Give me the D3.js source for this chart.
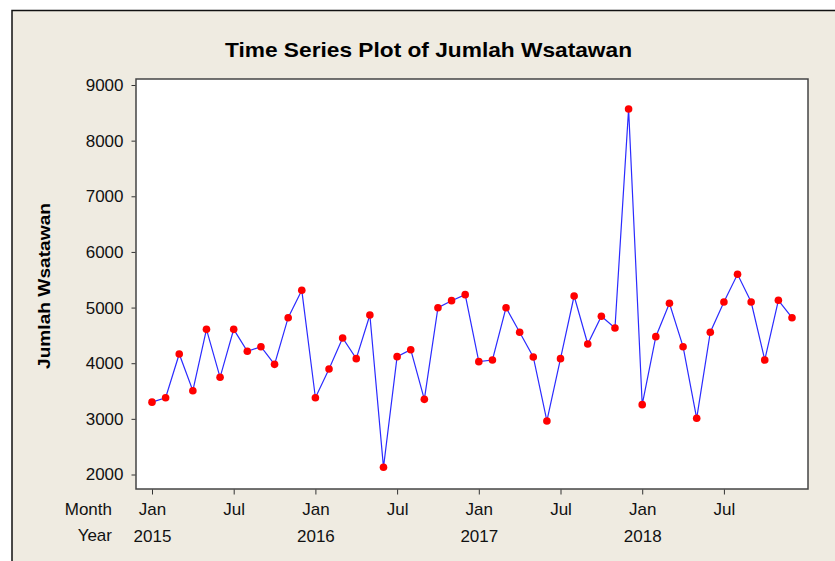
<!DOCTYPE html>
<html>
<head>
<meta charset="utf-8">
<script src="https://cdn.jsdelivr.net/npm/d3@7"></script>
<style>
  body { margin: 0; background: #fff; }
  svg text { font-family: "Liberation Sans", Arial, sans-serif; }
</style>
</head>
<body>
<div id="chart"></div>
<script>
// data
const months = ["Jan","Feb","Mar","Apr","May","Jun","Jul","Aug","Sep","Oct","Nov","Dec"];
const years = [2015, 2016, 2017, 2018];
const wisatawan = [
  3300, 3380, 4166, 3506, 4609, 3747, 4609, 4214, 4297, 3980, 4818, 5310,
  3380, 3896, 4453, 4082, 4867, 2129, 4118, 4243, 3351, 4998, 5124, 5232,
  4028, 4058, 4998, 4556, 4112, 2962, 4082, 5208, 4345, 4843, 4633, 8569,
  3255, 4477, 5077, 4297, 3010, 4556, 5100, 5598, 5100, 4058, 5131, 4818
];
const yTicks = [2000, 3000, 4000, 5000, 6000, 7000, 8000, 9000];
const monthTicks = [0, 6, 12, 18, 24, 30, 36, 42];
const yearTicks = [0, 12, 24, 36];

const width = 835, height = 561;
const box = { left: 136, top: 79, right: 808, bottom: 489 };

const svg = d3.select('#chart').append('svg')
  .attr('width', width).attr('height', height);

// figure background + frame
svg.append('rect')
  .attr('x', 12).attr('y', 10.5)
  .attr('width', width).attr('height', height)
  .attr('fill', '#efebe1')
  .attr('stroke', '#111').attr('stroke-width', 1.5);

const x = d3.scaleLinear().domain([0, 47]).range([152, 792]);
const y = d3.scaleLinear().domain([2000, 9000]).range([474.5, 85]);

// plot area
svg.append('rect')
  .attr('x', box.left).attr('y', box.top)
  .attr('width', box.right - box.left).attr('height', box.bottom - box.top)
  .attr('fill', '#fff')
  .attr('stroke', '#444').attr('stroke-width', 1.5);

// y axis
const yAxis = svg.append('g')
  .attr('transform', `translate(${box.left - 0.5},0)`)
  .call(d3.axisLeft(y).tickValues(yTicks).tickSize(4).tickPadding(8).tickFormat(d3.format('d')));
yAxis.select('.domain').remove();
yAxis.selectAll('line').attr('stroke', '#333');
yAxis.selectAll('text').attr('font-size', 17).attr('fill', '#111')
  .attr('font-family', '"Liberation Sans", Arial, sans-serif');

// x axis: months
const xAxis = svg.append('g')
  .attr('transform', `translate(0,${box.bottom + 0.5})`)
  .call(d3.axisBottom(x).tickValues(monthTicks).tickSize(5).tickPadding(8)
    .tickFormat(i => months[i % 12]));
xAxis.select('.domain').remove();
xAxis.selectAll('line').attr('stroke', '#333');
xAxis.selectAll('text').attr('font-size', 17).attr('fill', '#111')
  .attr('font-family', '"Liberation Sans", Arial, sans-serif');

// x axis: years
const yearAxis = svg.append('g')
  .attr('transform', `translate(0,${box.bottom + 32})`)
  .call(d3.axisBottom(x).tickValues(yearTicks).tickSize(0).tickPadding(9)
    .tickFormat(i => years[Math.floor(i / 12)]));
yearAxis.select('.domain').remove();
yearAxis.selectAll('text').attr('font-size', 17).attr('fill', '#111')
  .attr('font-family', '"Liberation Sans", Arial, sans-serif');

// row labels
svg.append('text').attr('x', 112).attr('y', 515).attr('text-anchor', 'end')
  .attr('font-size', 17).attr('fill', '#111').text('Month');
svg.append('text').attr('x', 112).attr('y', 541).attr('text-anchor', 'end')
  .attr('font-size', 17).attr('fill', '#111').text('Year');

// title
svg.append('text')
  .attr('x', 428.5).attr('y', 57)
  .attr('text-anchor', 'middle')
  .attr('font-size', 21).attr('font-weight', 'bold')
  .attr('textLength', 407).attr('lengthAdjust', 'spacingAndGlyphs')
  .attr('fill', '#000')
  .text('Time Series Plot of Jumlah Wsatawan');

// y label
svg.append('text')
  .attr('transform', `translate(50,286) rotate(-90)`)
  .attr('text-anchor', 'middle')
  .attr('font-size', 17).attr('font-weight', 'bold')
  .attr('textLength', 166).attr('lengthAdjust', 'spacingAndGlyphs')
  .attr('fill', '#000')
  .text('Jumlah Wsatawan');

// series
const line = d3.line().x((d, i) => x(i)).y(d => y(d));
svg.append('path')
  .datum(wisatawan)
  .attr('d', line)
  .attr('fill', 'none')
  .attr('stroke', '#2b2bff')
  .attr('stroke-width', 1.2);

svg.selectAll('.pt').data(wisatawan).enter()
  .append('circle')
  .attr('class', 'pt')
  .attr('cx', (d, i) => x(i))
  .attr('cy', d => y(d))
  .attr('r', 3.8)
  .attr('fill', '#ff0000');
</script>
</body>
</html>
